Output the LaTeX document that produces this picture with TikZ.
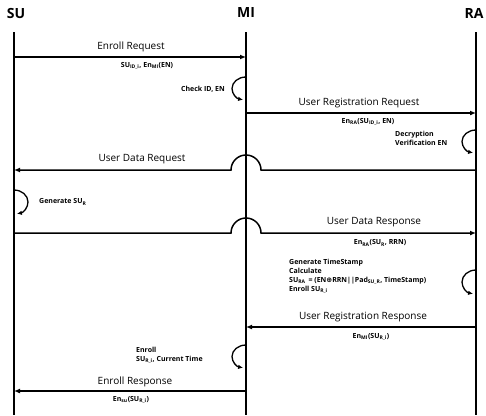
\documentclass[tikz,border=0pt]{standalone}
\usepackage{fontspec}
\setmainfont{Open Sans}
\newfontfamily\symfont{DejaVu Sans}
\usetikzlibrary{arrows.meta}
\newcommand\sbs[1]{\textsubscript{#1}}
\begin{document}
\begin{tikzpicture}[x=1pt,y=1pt,
  life/.style={line width=1.6pt},
  msg/.style={line width=1.5pt,-{Latex[length=6pt,width=5pt]}},
  selfloop/.style={line width=1.3pt,-{Latex[length=5pt,width=4.5pt]}},
  head/.style={font=\bfseries\fontsize{14}{16}\selectfont,inner sep=0pt},
  mlabel/.style={font=\fontsize{10}{12}\selectfont,inner sep=0pt},
  note/.style={font=\bfseries\fontsize{7}{9}\selectfont,inner sep=0pt,align=left},
]
\useasboundingbox (0,0) rectangle (486,-415);

% participants
\node[head] (SU) at (16,-13) {SU};
\node[head] (MI) at (246,-13) {MI};
\node[head] (RA) at (474,-13) {RA};

% lifelines
\coordinate (suTop) at (14,-32);  \coordinate (suBot) at (14,-415);
\coordinate (miTop) at (246,-32); \coordinate (miBot) at (246,-415);
\coordinate (raTop) at (476,-32); \coordinate (raBot) at (476,-415);
\draw[life] (suTop) -- (suBot);
\draw[life] (miTop) -- (miBot);
\draw[life] (raTop) -- (raBot);

% 1: Enroll Request
\coordinate (su1) at (14,-57); \coordinate (mi1) at (246,-57);
\draw[msg] (su1) -- (mi1);
\node[mlabel] (l1) at (131,-47) {Enroll Request};
\node[note] (p1) at (147,-66) {SU\sbs{ID\_i}, En\sbs{MI}(EN)};

% Check ID, EN
\coordinate (miA) at (246,-77);
\draw[selfloop] (miA) arc[start angle=90,end angle=258,x radius=14pt,y radius=11.5pt];
\node[note,anchor=east] (n1) at (225,-89) {Check ID, EN};

% 2: User Registration Request
\coordinate (mi2) at (246,-113); \coordinate (ra2) at (476,-113);
\draw[msg] (mi2) -- (ra2);
\node[mlabel] (l2) at (359,-103) {User Registration Request};
\node[note] (p2) at (368,-122) {En\sbs{RA}(SU\sbs{ID\_i}, EN)};

% Decryption / Verification
\coordinate (raA) at (476,-130);
\draw[selfloop] (raA) arc[start angle=90,end angle=258,x radius=14pt,y radius=11.5pt];
\node[note,anchor=west] (n2) at (395,-138) {Decryption\\Verification EN};

% 3: User Data Request (hops over MI)
\coordinate (ra3) at (476,-170); \coordinate (su3) at (14,-170);
\coordinate (h3r) at (261,-170); \coordinate (h3l) at (231,-170);
\draw[msg] (ra3) -- (h3r) arc[start angle=0,end angle=180,radius=15pt] -- (su3);
\node[mlabel] (l3) at (142,-159) {User Data Request};

% Generate SU_R
\coordinate (suA) at (14,-190);
\draw[selfloop] (suA) arc[start angle=90,end angle=-78,x radius=14pt,y radius=12pt];
\node[note,anchor=west] (n3) at (39,-202) {Generate SU\sbs{R}};

% 4: User Data Response (hops over MI)
\coordinate (su4) at (14,-233); \coordinate (ra4) at (476,-233);
\coordinate (h4l) at (231,-233); \coordinate (h4r) at (261,-233);
\draw[msg] (su4) -- (h4l) arc[start angle=180,end angle=0,radius=15pt] -- (ra4);
\node[mlabel] (l4) at (374,-222) {User Data Response};
\node[note] (p4) at (380,-243) {En\sbs{RA}(SU\sbs{R}, RRN)};

% RA computation
\coordinate (raC) at (476,-270);
\draw[selfloop] (raC) arc[start angle=90,end angle=258,x radius=14pt,y radius=12pt];
\node[note,anchor=west] (n4) at (289,-276) {Generate TimeStamp\\Calculate\\
  SU\sbs{RA} \,= (EN{\symfont ⊕}RRN||Pad\sbs{SU\_R}, TimeStamp)\\Enroll SU\sbs{R\_i}};

% 5: User Registration Response
\coordinate (ra5) at (476,-327); \coordinate (mi5) at (246,-327);
\draw[msg] (ra5) -- (mi5);
\node[mlabel] (l5) at (363,-317) {User Registration Response};
\node[note] (p5) at (371,-337) {En\sbs{MI}(SU\sbs{R\_i})};

% Enroll at MI
\coordinate (miC) at (246,-345);
\draw[selfloop] (miC) arc[start angle=90,end angle=258,x radius=14pt,y radius=11.5pt];
\node[note,anchor=west] (n5) at (136,-355.5) {Enroll\\SU\sbs{R\_i}, Current Time};

% 6: Enroll Response
\coordinate (mi6) at (246,-391); \coordinate (su6) at (14,-391);
\draw[msg] (mi6) -- (su6);
\node[mlabel] (l6) at (135,-382) {Enroll Response};
\node[note] (p6) at (131,-400) {En\sbs{su}(SU\sbs{R\_i})};
\end{tikzpicture}
\end{document}
